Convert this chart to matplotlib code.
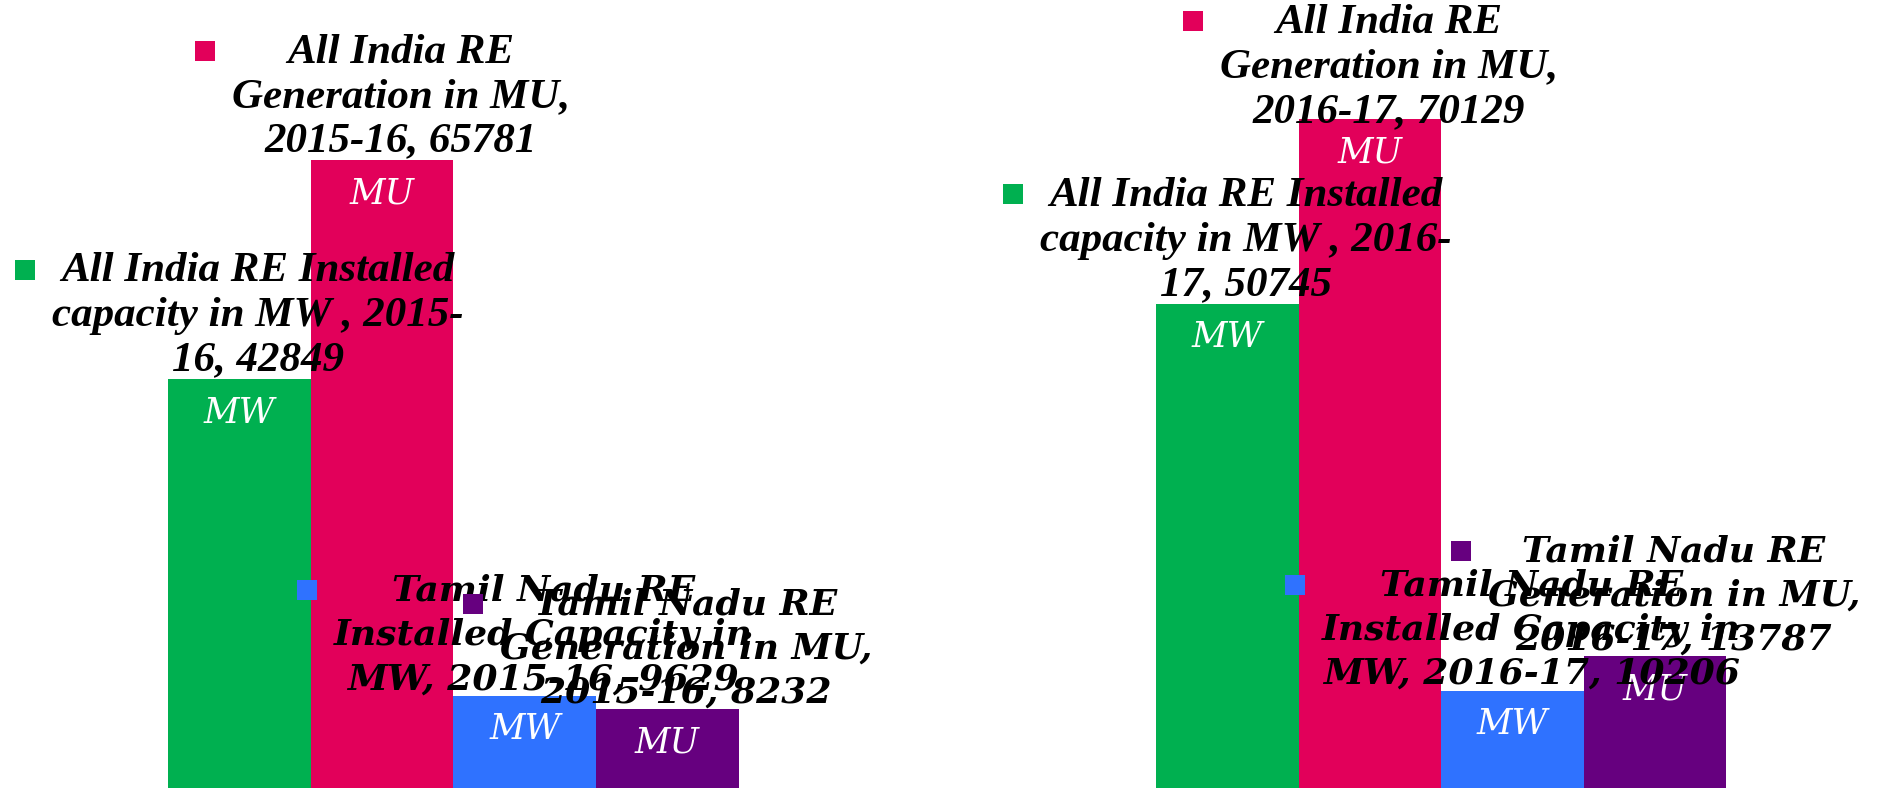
import matplotlib
matplotlib.use("Agg")
import matplotlib.pyplot as plt
from matplotlib.patches import Rectangle
import numpy as np

# data
years = ['2015-16', '2016-17']
india_cap_mw = [42849, 50745]
india_gen_mu = [65781, 70129]
tn_cap_mw = [9629, 10206]
tn_gen_mu = [8232, 13787]
units = ['MW', 'MU', 'MW', 'MU']
colors = ['#00B050', '#E2005A', '#2F72FF', '#66007F']

# label text for each series (wrapped like the data labels)
label_fmt = [
    "All India RE Installed\ncapacity in MW , {y0}-\n{y1}, {v}",
    "All India RE\nGeneration in MU,\n{y}, {v}",
    "Tamil Nadu RE\nInstalled Capacity in\nMW, {y}, {v}",
    "Tamil Nadu RE\nGeneration in MU,\n{y}, {v}",
]
label_fonts = ['Liberation Serif', 'Liberation Serif', 'DejaVu Serif', 'DejaVu Serif']
label_sizes = [31, 31, 26, 26]
label_spacing = [1.22, 1.22, 1.37, 1.37]

series = [india_cap_mw, india_gen_mu, tn_cap_mw, tn_gen_mu]

fig = plt.figure(figsize=(18.79, 7.88), dpi=100)
ax = fig.add_axes([0, 0, 1, 1])
ax.set_axis_off()

x = np.arange(len(years))
width = 0.1443
offsets = (np.arange(4) - 1.5) * width

for i, vals in enumerate(series):
    ax.bar(x + offsets[i], vals, width, color=colors[i], edgecolor='none')

ax.set_xlim(-0.459, 1.443)
ax.set_ylim(0, 82600)

# white unit text inside bar tops
for i, vals in enumerate(series):
    for j, v in enumerate(vals):
        ax.annotate(units[i], xy=(x[j] + offsets[i], v), xytext=(0, -24),
                    textcoords='offset points', ha='center', va='center',
                    color='white', fontsize=25, fontstyle='italic',
                    family='DejaVu Serif')

key_px = 20   # legend key square
gap_px = 17   # space between key and text
px_to_pt = 72 / fig.dpi

texts = []
for i, vals in enumerate(series):
    for j, v in enumerate(vals):
        y0, y1 = years[j].split('-')
        s = label_fmt[i].format(y0=y0, y1=y1, y=years[j], v=v)
        t = ax.annotate(s, xy=(x[j] + offsets[i], v),
                        xytext=((key_px + gap_px) / 2 * px_to_pt, 0),
                        textcoords='offset points', ha='center', va='bottom',
                        multialignment='center', linespacing=label_spacing[i],
                        fontsize=label_sizes[i], fontweight='bold',
                        fontstyle='italic', family=label_fonts[i],
                        color='black', zorder=5)
        texts.append((t, i))

fig.canvas.draw()
renderer = fig.canvas.get_renderer()
fig_h = fig.bbox.height
top_margin = 4

for t, i in texts:
    bb = t.get_window_extent(renderer)
    # keep labels inside the chart area
    if bb.y1 > fig_h - top_margin:
        dx, dy = t.xyann
        t.xyann = (dx, dy - (bb.y1 - (fig_h - top_margin)) * px_to_pt)
        bb = t.get_window_extent(renderer)
    line_h = bb.height / 3
    cy = bb.y1 - line_h / 2 + 4
    kx = bb.x0 - gap_px - key_px
    ky = cy - key_px / 2
    inv = fig.transFigure.inverted()
    (fx, fy) = inv.transform((kx, ky))
    (fw, fh) = inv.transform((kx + key_px, ky + key_px)) - np.array([fx, fy])
    fig.add_artist(Rectangle((fx, fy), fw, fh, transform=fig.transFigure,
                             facecolor=colors[i], edgecolor='none', zorder=6))

fig.savefig('out.png', dpi=100)
